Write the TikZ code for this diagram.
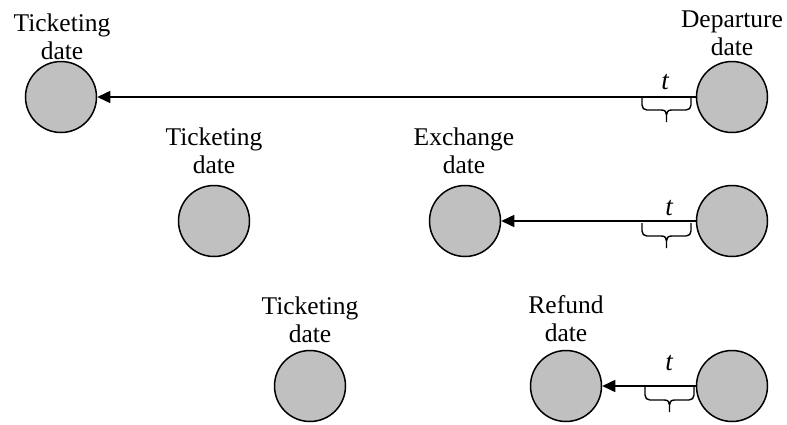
\documentclass[tikz,border=0pt]{standalone}
\usepackage{fontspec}
\setmainfont{Liberation Serif}
\usetikzlibrary{arrows.meta}
\definecolor{dotgray}{RGB}{192,192,192}
\tikzset{
  dot/.style={circle,draw=black,line width=1.5pt,fill=dotgray,minimum size=71pt,inner sep=0pt},
  lbl/.style={anchor=south,inner sep=0pt,align=center,font=\fontsize{25.5}{28}\selectfont},
  tlbl/.style={anchor=base,inner sep=0pt,font=\fontsize{27}{30}\selectfont\itshape},
  conn/.style={line width=1.5pt,-{Triangle[length=13pt,width=12pt]}},
  bracedown/.pic={
    \draw[line width=1.4pt,line join=round]
      (0,0) -- (0,8) .. controls (0,11) and (2,13) .. (5,13) -- (19.5,13)
      .. controls (23,13) and (24.5,15) .. (24.5,18) -- (24.5,25)
      (49,0) -- (49,8) .. controls (49,11) and (47,13) .. (44,13) -- (29.5,13)
      .. controls (26,13) and (24.5,15) .. (24.5,18);
  }
}
\begin{document}
\begin{tikzpicture}[x=1pt,y=-1pt]
\useasboundingbox (0,0) rectangle (787,424);
% row 1
\node[dot] (a1) at (61,97) {};
\node[dot] (d1) at (732,97) {};
\node[lbl] (la1) at (62,60) {Ticketing\\date};
\node[lbl] (ld1) at (732,56) {Departure\\date};
\draw[conn] (d1.west) -- (a1.east);
\node[tlbl] (t1) at (665,89) {t};
\pic at (642,97) {bracedown};
% row 2
\node[dot] (a2) at (214,221) {};
\node[dot] (e2) at (465,221) {};
\node[dot] (d2) at (732,221) {};
\node[lbl] (la2) at (214,174) {Ticketing\\date};
\node[lbl] (le2) at (464,173.5) {Exchange\\date};
\draw[conn] (d2.west) -- (e2.east);
\node[tlbl] (t2) at (669,215) {t};
\pic at (642,223) {bracedown};
% row 3
\node[dot] (a3) at (310,386) {};
\node[dot] (r3) at (566,386) {};
\node[dot] (d3) at (732,386) {};
\node[lbl] (la3) at (310,343) {Ticketing\\date};
\node[lbl] (lr3) at (566,342) {Refund\\date};
\draw[conn] (d3.west) -- (r3.east);
\node[tlbl] (t3) at (669,370) {t};
\pic at (645,387) {bracedown};
\end{tikzpicture}
\end{document}
